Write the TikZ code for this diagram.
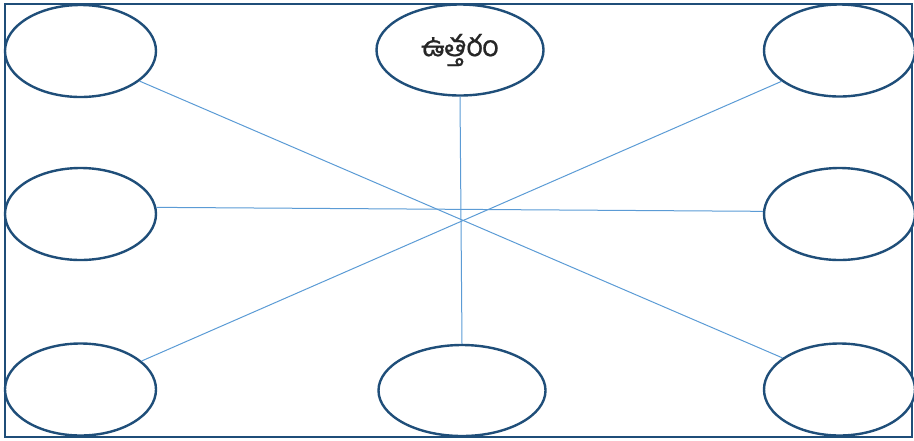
\documentclass[tikz,border=0pt]{standalone}
\usepackage{fontspec}
\usetikzlibrary{shapes.geometric}
\newfontfamily\telugufont[Script=Telugu,FakeBold=0.6]{Hind Guntur}
\definecolor{darkblue}{HTML}{1F4E79}
\definecolor{lineblue}{HTML}{5B9BD5}
\definecolor{textgrey}{HTML}{262626}
\begin{document}
\begin{tikzpicture}[x=1pt,y=-1pt,
  bubble/.style={ellipse,draw=darkblue,line width=2.4pt,fill=white,inner sep=0pt,
    minimum width=151pt,minimum height=92pt},
  wide/.style={minimum width=167pt,minimum height=91pt},
  spoke/.style={draw=lineblue,line width=1pt}]
\useasboundingbox (0,0) rectangle (914,440);
\draw[darkblue,line width=2.4pt] (5,4) rectangle (912,437);
% nodes
\node[bubble] (tl) at (80.5,51) {};
\node[bubble,wide,font=\telugufont\fontsize{29}{32}\selectfont,text=textgrey] (tc) at (460,50) {ఉత్తరం};
\node[bubble] (tr) at (839.5,50.5) {};
\node[bubble] (ml) at (80.5,214) {};
\node[bubble] (mr) at (839.5,214) {};
\node[bubble] (bl) at (80.5,389.5) {};
\node[bubble,wide] (bc) at (462,390.5) {};
\node[bubble] (br) at (839.5,389.5) {};
% connectors
\draw[spoke] (tl.-27) -- (br.151);
\draw[spoke] (tr.208) -- (bl.25);
\draw[spoke] (ml.5) -- (mr.178);
\draw[spoke] (tc.south) -- (bc.north);
\end{tikzpicture}
\end{document}
